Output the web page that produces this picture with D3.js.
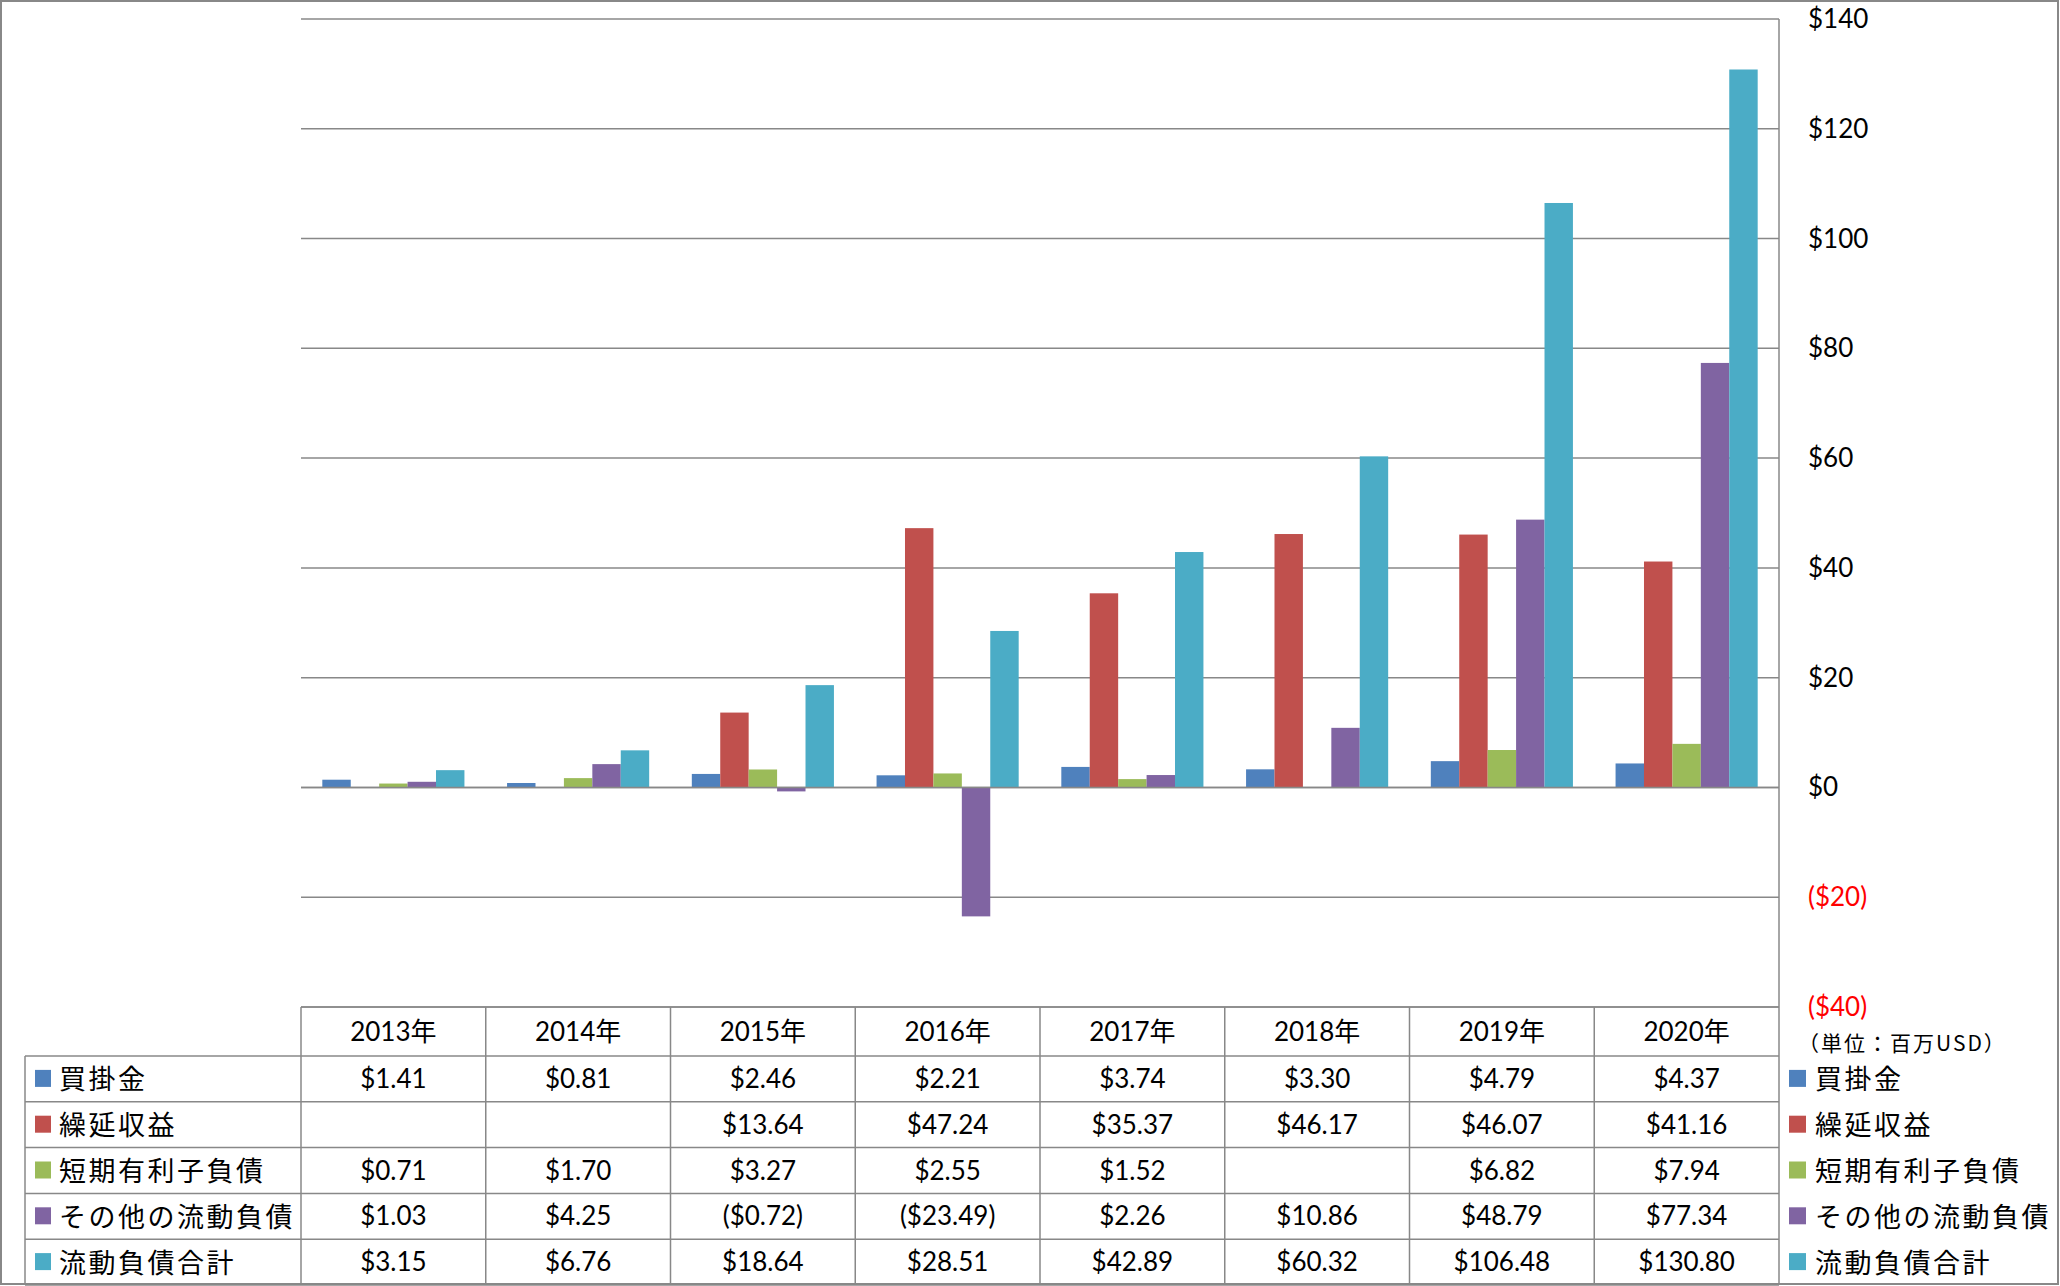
<!DOCTYPE html>
<html>
<head>
<meta charset="utf-8">
<script src="https://cdn.jsdelivr.net/npm/d3@7"></script>
<style>
  html, body { margin: 0; padding: 0; background: #fff; }
  svg { display: block; }
</style>
</head>
<body>
<svg id="chart" width="2060" height="1286"></svg>
<script>
// ---- data ----
const years = ["2013年", "2014年", "2015年", "2016年", "2017年", "2018年", "2019年", "2020年"];
const seriesNames = ["買掛金", "繰延収益", "短期有利子負債", "その他の流動負債", "流動負債合計"];
const accountsPayable = [1.41, 0.81, 2.46, 2.21, 3.74, 3.30, 4.79, 4.37];
const deferredRevenue = [null, null, 13.64, 47.24, 35.37, 46.17, 46.07, 41.16];
const shortTermDebt = [0.71, 1.70, 3.27, 2.55, 1.52, null, 6.82, 7.94];
const otherCurrent = [1.03, 4.25, -0.72, -23.49, 2.26, 10.86, 48.79, 77.34];
const totalCurrent = [3.15, 6.76, 18.64, 28.51, 42.89, 60.32, 106.48, 130.80];
const seriesValues = [accountsPayable, deferredRevenue, shortTermDebt, otherCurrent, totalCurrent];
const seriesColors = ["#4F81BD", "#C0504D", "#9BBB59", "#8064A2", "#4BACC6"];
const yTicks = [-40, -20, 0, 20, 40, 60, 80, 100, 120, 140];
const unitLabel = "（単位：百万USD）";

// ---- layout ----
const svg = d3.select("#chart");
const plotLeft = 301, plotRight = 1779, plotTop = 19, plotBottom = 1007;
const legendLeft = 25;
const headerBottom = 1056, tableBottom = 1285;
const rowH = (tableBottom - headerBottom) / seriesNames.length;
const gridColor = "#888888";
const numFont = "Lato, 'Noto Sans CJK JP', sans-serif";
const cjkFont = "'Noto Sans CJK JP', sans-serif";

const x0 = d3.scaleBand().domain(years).range([plotLeft, plotRight]).paddingInner(0).paddingOuter(0);
const x1 = d3.scaleBand().domain(seriesNames).range([0, x0.bandwidth()]).paddingInner(0).paddingOuter(0.75);
const y = d3.scaleLinear().domain([-40, 140]).range([plotBottom, plotTop]);

function fmt(v) {
  if (v === null || v === undefined) return "";
  const s = "$" + Math.abs(v).toFixed(2);
  return v < 0 ? "(" + s + ")" : s;
}
function fmtTick(v) {
  const s = "$" + Math.abs(v);
  return v < 0 ? "(" + s + ")" : s;
}

// outer border
svg.append("rect").attr("x", 1).attr("y", 1).attr("width", 2057).attr("height", 1283)
  .attr("fill", "none").attr("stroke", gridColor).attr("stroke-width", 2);

// gridlines
svg.append("g").selectAll("line").data(yTicks).join("line")
  .attr("x1", plotLeft).attr("x2", plotRight)
  .attr("y1", d => y(d)).attr("y2", d => y(d))
  .attr("stroke", gridColor).attr("stroke-width", 1.5);

// bars
const barData = [];
seriesNames.forEach((s, si) => {
  years.forEach((yr, yi) => {
    const v = seriesValues[si][yi];
    if (v !== null) barData.push({ s, si, yr, v });
  });
});
svg.append("g").selectAll("rect").data(barData).join("rect")
  .attr("x", d => x0(d.yr) + x1(d.s))
  .attr("width", x1.bandwidth())
  .attr("y", d => y(Math.max(0, d.v)))
  .attr("height", d => Math.abs(y(d.v) - y(0)))
  .attr("fill", d => seriesColors[d.si]);

// zero line on top
svg.append("line").attr("x1", plotLeft).attr("x2", plotRight)
  .attr("y1", y(0)).attr("y2", y(0)).attr("stroke", gridColor).attr("stroke-width", 1.5);

// right axis line
svg.append("line").attr("x1", plotRight).attr("x2", plotRight)
  .attr("y1", plotTop).attr("y2", tableBottom).attr("stroke", gridColor).attr("stroke-width", 1.5);

// y tick labels
svg.append("g").selectAll("text").data(yTicks).join("text")
  .attr("x", 1808).attr("y", d => y(d) - 1)
  .attr("dominant-baseline", "central")
  .attr("font-family", numFont).attr("font-size", 26)
  .attr("fill", d => d < 0 ? "#FF0000" : "#000000")
  .text(d => fmtTick(d));

// unit label
svg.append("text").attr("x", 1798).attr("y", 1042)
  .attr("dominant-baseline", "central")
  .attr("font-family", cjkFont).attr("font-size", 21).attr("letter-spacing", 2).attr("fill", "#000")
  .text(unitLabel);

// ---- data table ----
const tbl = svg.append("g");
// horizontal lines
const hLines = [{ y: plotBottom, x1: plotLeft }];
for (let i = 0; i <= seriesNames.length; i++) hLines.push({ y: headerBottom + i * rowH, x1: legendLeft });
tbl.selectAll("line.h").data(hLines).join("line").attr("class", "h")
  .attr("x1", d => d.x1).attr("x2", plotRight)
  .attr("y1", d => d.y).attr("y2", d => d.y)
  .attr("stroke", gridColor).attr("stroke-width", 1.5);
// vertical lines
const vLines = years.map(yr => x0(yr));
tbl.selectAll("line.v").data(vLines).join("line").attr("class", "v")
  .attr("x1", d => d).attr("x2", d => d)
  .attr("y1", plotBottom).attr("y2", tableBottom)
  .attr("stroke", gridColor).attr("stroke-width", 1.5);
tbl.append("line").attr("x1", legendLeft).attr("x2", legendLeft)
  .attr("y1", headerBottom).attr("y2", tableBottom)
  .attr("stroke", gridColor).attr("stroke-width", 1.5);

// header
tbl.selectAll("text.yr").data(years).join("text").attr("class", "yr")
  .attr("x", d => x0(d) + x0.bandwidth() / 2)
  .attr("y", (plotBottom + headerBottom) / 2 - 1)
  .attr("text-anchor", "middle").attr("dominant-baseline", "central")
  .attr("font-family", numFont).attr("font-size", 26).attr("fill", "#000")
  .text(d => d);

// rows
seriesNames.forEach((s, si) => {
  const cy = headerBottom + si * rowH + rowH / 2;
  tbl.append("rect").attr("x", 35).attr("y", cy - 9).attr("width", 16).attr("height", 17)
    .attr("fill", seriesColors[si]);
  tbl.append("text").attr("x", 59).attr("y", cy - 1)
    .attr("dominant-baseline", "central")
    .attr("font-family", cjkFont).attr("font-size", 27).attr("letter-spacing", 2.5)
    .attr("fill", "#000").text(s);
  tbl.selectAll(null).data(years).join("text")
    .attr("x", d => x0(d) + x0.bandwidth() / 2)
    .attr("y", cy - 1)
    .attr("text-anchor", "middle").attr("dominant-baseline", "central")
    .attr("font-family", numFont).attr("font-size", 26).attr("fill", "#000")
    .text((d, i) => fmt(seriesValues[si][i]));
  // right legend
  tbl.append("rect").attr("x", 1789).attr("y", cy - 9).attr("width", 17).attr("height", 17)
    .attr("fill", seriesColors[si]);
  tbl.append("text").attr("x", 1815).attr("y", cy - 1)
    .attr("dominant-baseline", "central")
    .attr("font-family", cjkFont).attr("font-size", 27).attr("letter-spacing", 2.5)
    .attr("fill", "#000").text(s);
});
</script>
</body>
</html>
